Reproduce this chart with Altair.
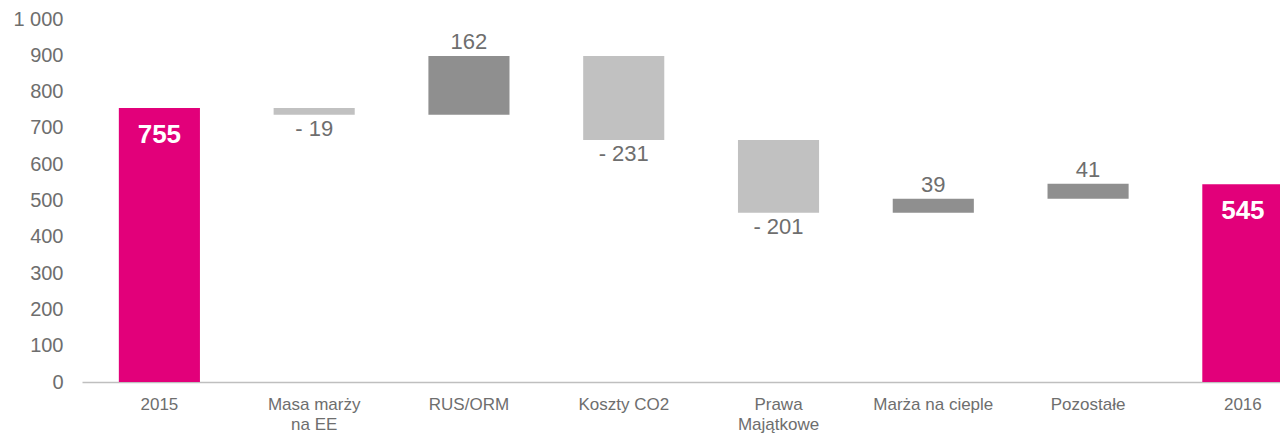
import altair as alt
import pandas as pd

categories = ["2015", "Masa marży\nna EE", "RUS/ORM", "Koszty CO2", "Prawa\nMajątkowe",
              "Marża na cieple", "Pozostałe", "2016"]
values = [755, -19, 162, -231, -201, 39, 41, 545]
kinds = ["total", "neg", "pos", "neg", "neg", "pos", "pos", "total"]
value_labels = ["755", "- 19", "162", "- 231", "- 201", "39", "41", "545"]
y_ticks = [0, 100, 200, 300, 400, 500, 600, 700, 800, 900, 1000]

rows = []
running = 0
for i, (c, v, k, lab) in enumerate(zip(categories, values, kinds, value_labels)):
    if k == "total":
        start, end = 0, v
        running = v
    else:
        start, end = running, running + v
        running = end
    rows.append({"idx": i, "cat": c, "start": start, "end": end, "kind": k,
                 "label": lab, "lo": min(start, end), "hi": max(start, end)})
df = pd.DataFrame(rows)

xscale = alt.Scale(domain=[-0.5, 7.24], nice=False, zero=False)
yscale = alt.Scale(domain=[0, 1000], nice=False)
GRAY = "#6e6e6e"
FONT = "Liberation Sans"

xaxis = alt.Axis(labels=False, ticks=False, grid=False, title=None,
                 domainColor="#bfbfbf", domainWidth=1.5)
yaxis = alt.Axis(values=y_ticks, domain=False, ticks=False, grid=False,
                 title=None, labelFontSize=20, labelColor=GRAY, labelFont=FONT,
                 labelPadding=19, labelOverlap=False, labelBound=False,
                 labelExpr="datum.value == 1000 ? '1 000' : datum.label")

base = alt.Chart(df).transform_calculate(x0="datum.idx - 0.262", x1="datum.idx + 0.262")

bars = base.mark_bar(clip=True).encode(
    x=alt.X("x0:Q", scale=xscale, axis=xaxis),
    x2="x1:Q",
    y=alt.Y("lo:Q", scale=yscale, axis=yaxis),
    y2="hi:Q",
    color=alt.Color("kind:N", scale=alt.Scale(domain=["total", "neg", "pos"],
                                              range=["#e2007a", "#c1c1c1", "#8f8f8f"]),
                    legend=None),
)

neg_txt = base.transform_filter("datum.kind == 'neg'").mark_text(
    baseline="top", dy=4, fontSize=22, color=GRAY, font=FONT
).encode(x=alt.X("idx:Q", scale=xscale, axis=xaxis),
         y=alt.Y("lo:Q", scale=yscale, axis=yaxis), text="label:N")

pos_txt = base.transform_filter("datum.kind == 'pos'").mark_text(
    baseline="bottom", dy=-2, fontSize=22, color=GRAY, font=FONT
).encode(x=alt.X("idx:Q", scale=xscale, axis=xaxis),
         y=alt.Y("hi:Q", scale=yscale, axis=yaxis), text="label:N")

tot_txt = base.transform_filter("datum.kind == 'total'").mark_text(
    baseline="top", dy=14, fontSize=26, fontWeight="bold", color="white", font=FONT
).encode(x=alt.X("idx:Q", scale=xscale, axis=xaxis),
         y=alt.Y("hi:Q", scale=yscale, axis=yaxis), text="label:N")

cat_txt = base.mark_text(
    baseline="top", fontSize=17, color=GRAY, font=FONT, lineBreak="\n", lineHeight=20
).encode(x=alt.X("idx:Q", scale=xscale, axis=xaxis), y=alt.value(378), text="cat:N")

chart = alt.layer(bars, neg_txt, pos_txt, tot_txt, cat_txt).properties(
    width=1198, height=363,
    autosize=alt.AutoSizeParams(type="none"),
    padding={"left": 82, "top": 19, "right": 0, "bottom": 52},
    background="white",
).configure_view(stroke=None)

chart.save("out.html", embed_options={"renderer": "svg", "actions": False})
